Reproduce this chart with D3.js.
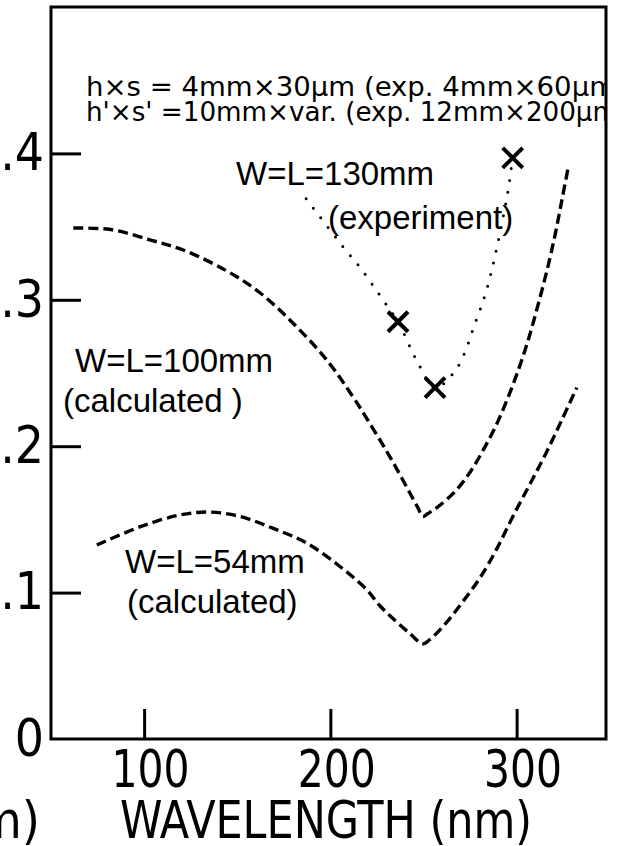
<!DOCTYPE html>
<html>
<head>
<meta charset="utf-8">
<script src="https://cdn.jsdelivr.net/npm/d3@7"></script>
<style>
  html, body { margin: 0; padding: 0; background: #fff; }
  svg { display: block; }
  text { fill: #000; }
</style>
</head>
<body>
<div id="chart"></div>
<script>
/* Data */
const xTicks = [100, 200, 300]
const yTicks = [0, 0.1, 0.2, 0.3, 0.4]

// W=L=100mm (calculated), dashed
const curve100 = [
  [62, 0.349], [82, 0.348], [103, 0.341], [121, 0.334], [144, 0.320],
  [162, 0.305], [180, 0.284], [198, 0.259], [212, 0.234], [220, 0.218],
  [230, 0.197], [236.3, 0.183], [242.7, 0.168], [247, 0.158], [249.6, 0.152],
  [252.4, 0.154], [257.2, 0.158], [266.9, 0.169], [274.9, 0.182], [281.9, 0.197],
  [288.9, 0.214], [295.3, 0.233], [301.2, 0.253], [306.6, 0.274], [311.4, 0.296],
  [316.3, 0.320], [320.6, 0.344], [324.3, 0.368], [327.5, 0.389]
]

// W=L=54mm (calculated), dashed
const curve54 = [
  [74.6, 0.1325], [98, 0.145], [119, 0.153], [135, 0.155], [151.5, 0.152],
  [169, 0.144], [187, 0.134], [205, 0.118], [219.5, 0.102], [226.6, 0.091],
  [234.7, 0.081], [242.7, 0.072], [249.6, 0.065], [253.5, 0.068], [262.6, 0.080],
  [271.2, 0.094], [280.3, 0.110], [289.4, 0.130], [298, 0.152], [307.1, 0.174],
  [315.7, 0.195], [324.3, 0.218], [332.3, 0.240]
]

// W=L=130mm (experiment): measured points and the dotted guide
const expPoints = [[236.3, 0.285], [256.2, 0.240], [297.9, 0.397]]
const expGuide = [
  [187, 0.369], [207, 0.336], [216, 0.322], [229.3, 0.298], [236.3, 0.285],
  [247, 0.257], [256.2, 0.240], [267.8, 0.253], [278, 0.285], [284.6, 0.310],
  [295.2, 0.373], [297.9, 0.398]
]

const width = 618
const height = 846
const narrow = "'DejaVu Sans Condensed', 'DejaVu Sans', sans-serif"
const regular = "'Liberation Sans', Arial, sans-serif"

const x = d3.scaleLinear().domain([50, 348]).range([51, 606])
const y = d3.scaleLinear().domain([0, 0.5]).range([739, 7])

const svg = d3.select("#chart").append("svg")
    .attr("width", width)
    .attr("height", height)

svg.append("defs").append("clipPath")
    .attr("id", "inside")
  .append("rect")
    .attr("x", 0)
    .attr("y", 0)
    .attr("width", x(348))
    .attr("height", y(0))

// frame
svg.append("rect")
    .attr("x", x(50))
    .attr("y", y(0.5))
    .attr("width", x(348) - x(50))
    .attr("height", y(0) - y(0.5))
    .attr("fill", "none")
    .attr("stroke", "#000")
    .attr("stroke-width", 3)

// axes, ticks pointing inwards
const yAxis = svg.append("g")
    .attr("transform", `translate(${x(50)},0)`)
    .call(d3.axisLeft(y)
      .tickValues(yTicks)
      .tickSizeInner(-30)
      .tickSizeOuter(0)
      .tickPadding(7)
      .tickFormat(d => d === 0 ? "0" : d3.format(".1f")(d).replace(/^0/, "")))

const xAxis = svg.append("g")
    .attr("transform", `translate(0,${y(0)})`)
    .call(d3.axisBottom(x)
      .tickValues(xTicks)
      .tickSizeInner(-30)
      .tickSizeOuter(0)
      .tickPadding(12))

;[yAxis, xAxis].forEach(g => {
  g.select(".domain").remove()
  g.selectAll(".tick line").attr("stroke", "#000").attr("stroke-width", 3)
  g.selectAll(".tick text")
      .attr("fill", "#000")
      .style("font-family", narrow)
      .style("font-size", "51px")
})
yAxis.selectAll(".tick line").filter(d => d === 0).remove()
xAxis.selectAll(".tick text")
    .attr("dx", 6)
    .attr("textLength", 78)
    .attr("lengthAdjust", "spacingAndGlyphs")

// curves
const line = d3.line()
    .x(d => x(d[0]))
    .y(d => y(d[1]))
    .curve(d3.curveCatmullRom)

;[curve100, curve54].forEach(data => {
  svg.append("path")
      .datum(data)
      .attr("d", line)
      .attr("fill", "none")
      .attr("stroke", "#000")
      .attr("stroke-width", 3.4)
      .attr("stroke-dasharray", "10,5")
})

svg.append("path")
    .datum(expGuide)
    .attr("d", line)
    .attr("fill", "none")
    .attr("stroke", "#000")
    .attr("stroke-width", 3)
    .attr("stroke-linecap", "round")
    .attr("stroke-dasharray", "0,12")

// crosses
const r = 10
svg.selectAll(".cross")
  .data(expPoints)
  .join("path")
    .attr("class", "cross")
    .attr("d", d => {
      const cx = x(d[0]), cy = y(d[1])
      return `M${cx - r},${cy - r}L${cx + r},${cy + r}M${cx - r},${cy + r}L${cx + r},${cy - r}`
    })
    .attr("stroke", "#000")
    .attr("stroke-width", 4)

// text
const addText = (str, tx, ty, size, family, opts) => {
  opts = opts || {}
  const t = svg.append("text")
      .attr("x", tx)
      .attr("y", ty)
      .attr("text-anchor", opts.anchor || "start")
      .style("font-family", family)
      .style("font-size", size + "px")
      .text(str)
  if (opts.len) t.attr("textLength", opts.len).attr("lengthAdjust", "spacingAndGlyphs")
  if (opts.clip) t.attr("clip-path", "url(#inside)")
  return t
}

addText("h×s = 4mm×30μm (exp. 4mm×60μm", 86, 96, 26, narrow, {len: 530, clip: true})
addText("h'×s' =10mm×var.  (exp. 12mm×200μm", 86, 121, 26, narrow, {len: 532, clip: true})
addText("W=L=130mm", 236, 185, 33, regular)
addText("(experiment)", 328, 229, 33, regular)
addText("W=L=100mm", 75, 372, 33, regular)
addText("(calculated )", 63, 412, 33, regular)
addText("W=L=54mm", 125, 573, 33, regular)
addText("(calculated)", 127, 613, 33, regular)
addText("WAVELENGTH  (nm)", 120, 838, 52, narrow, {len: 412})
addText("(nm)", 40, 838, 52, narrow, {anchor: "end"})
</script>
</body>
</html>
